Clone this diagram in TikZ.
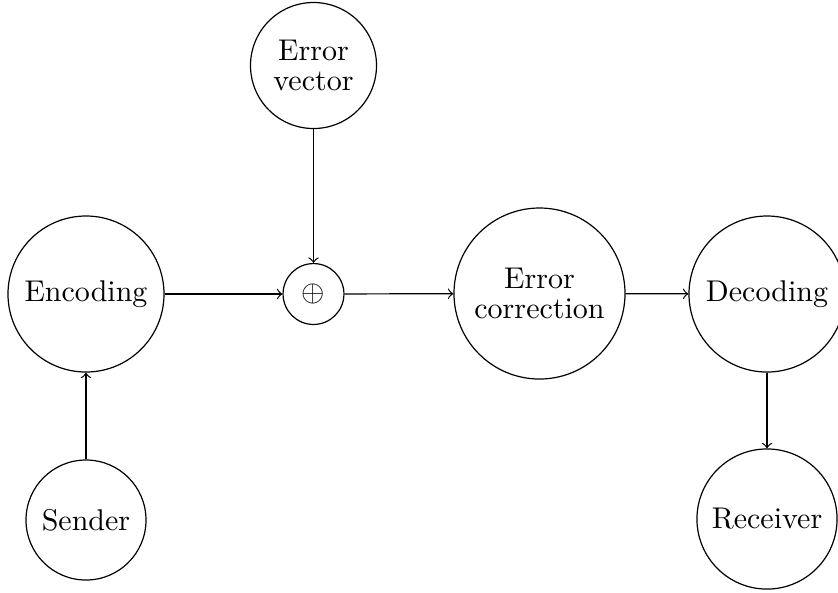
\documentclass[tikz,border=0pt]{standalone}
\usetikzlibrary{arrows}
\begin{document}
\begin{tikzpicture}[x=0.3333pt,y=-0.3333pt,
  blob/.style={draw,circle,inner sep=0pt,align=center,font={\fontsize{10}{10.2}\selectfont}},
  conn/.style={->,line width=0.4pt}]
\useasboundingbox (0,0) rectangle (838,592);
\node[blob,minimum size=52pt] (enc) at (86,294) {Encoding};
\node[blob,minimum size=40pt] (snd) at (86,520) {Sender};
\node[blob,minimum size=42pt] (ev) at (313.5,65.5) {Error\\vector};
\node[blob,minimum size=20.3pt] (xor) at (313.5,294) {$\oplus$};
\node[blob,minimum size=57pt] (ec) at (539.5,293.5) {Error\\correction};
\node[blob,minimum size=52pt] (dec) at (767,294) {Decoding};
\node[blob,minimum size=46.7pt] (rcv) at (767,519) {Receiver};
\draw[conn] (snd) -- (enc);
\draw[conn] (enc) -- (xor);
\draw[conn] (ev) -- (xor);
\draw[conn] (xor) -- (ec);
\draw[conn] (ec) -- (dec);
\draw[conn] (dec) -- (rcv);
\end{tikzpicture}
\end{document}
